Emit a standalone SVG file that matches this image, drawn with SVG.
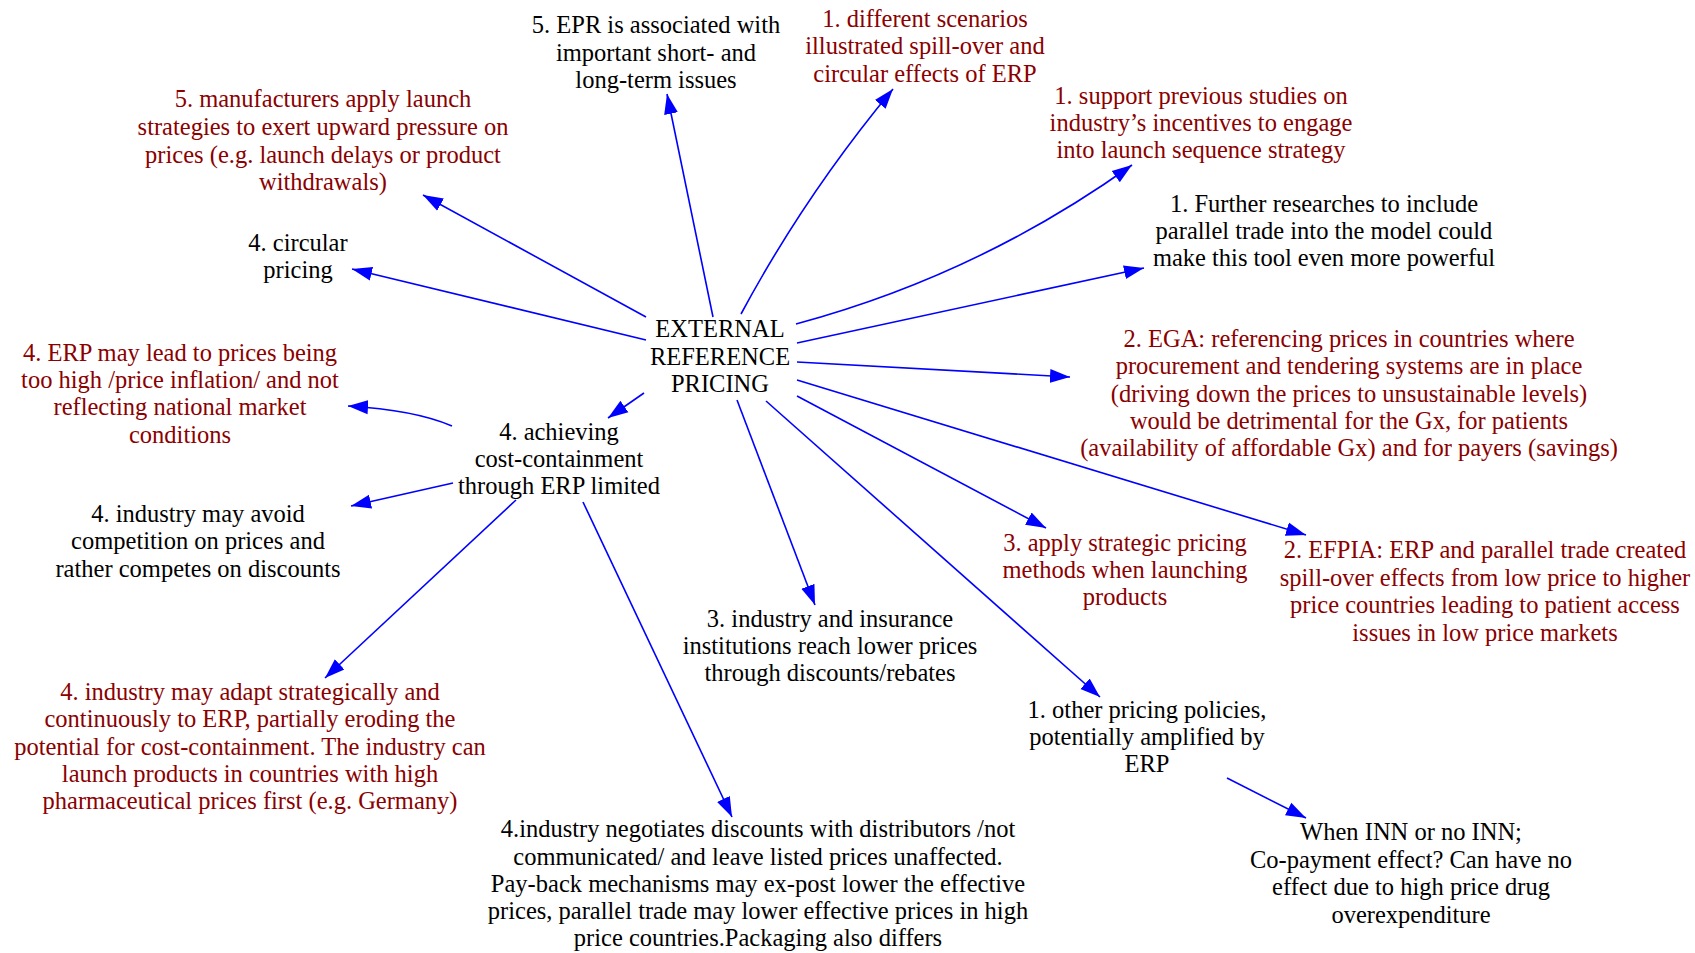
<svg xmlns="http://www.w3.org/2000/svg" width="1695" height="953" viewBox="0 0 1695 953">
  <style>
    .t { font-family: "Liberation Serif", "Times New Roman", serif; font-size: 24.5px; text-anchor: middle; }
    .k { fill: #000000; }
    .r { fill: #8b0000; }
    .e { fill: none; stroke: #0000ff; stroke-width: 1.6; marker-end: url(#arr); }
  </style>
  <defs>
    <marker id="arr" markerUnits="userSpaceOnUse" markerWidth="22" markerHeight="16" refX="20" refY="7" orient="auto" viewBox="0 0 22 14">
      <path d="M0,0 L20,7 L0,14 z" fill="#0000ff"/>
    </marker>
  </defs>
  <rect width="1695" height="953" fill="#ffffff"/>

  <!-- connectors -->
  <g id="edges">
    <path class="e" d="M713,317 L667,94"/>
    <path class="e" d="M741,314 Q805,195 893,89"/>
    <path class="e" d="M796,324 Q978,275 1132,165"/>
    <path class="e" d="M797,343 L1144,268"/>
    <path class="e" d="M797,362 L1070,377"/>
    <path class="e" d="M797,380 L1306,535"/>
    <path class="e" d="M797,396 L1046,528"/>
    <path class="e" d="M766,401 L1100,697"/>
    <path class="e" d="M737,400 L815,605"/>
    <path class="e" d="M644,393 L608,418"/>
    <path class="e" d="M646,317 L423,195"/>
    <path class="e" d="M646,340 L352,269"/>
    <path class="e" d="M452,426 Q415,410 348,406"/>
    <path class="e" d="M453,483 L351,506"/>
    <path class="e" d="M516,500 L325,678"/>
    <path class="e" d="M583,502 L732,817"/>
    <path class="e" d="M1227,778 L1306,818"/>
  </g>

  <g id="n_erp" class="t k">
    <text x="720" y="337">EXTERNAL</text>
    <text x="720" y="365">REFERENCE</text>
    <text x="720" y="392">PRICING</text>
  </g>
  <g id="n_epr_issues" class="t k">
    <text x="656" y="33">5. EPR is associated with</text>
    <text x="656" y="61">important short- and</text>
    <text x="656" y="88">long-term issues</text>
  </g>
  <g id="n_scenarios" class="t r">
    <text x="925" y="27">1. different scenarios</text>
    <text x="925" y="54">illustrated spill-over and</text>
    <text x="925" y="82">circular effects of ERP</text>
  </g>
  <g id="n_support" class="t r">
    <text x="1201" y="104">1. support previous studies on</text>
    <text x="1201" y="131">industry’s incentives to engage</text>
    <text x="1201" y="158">into launch sequence strategy</text>
  </g>
  <g id="n_further" class="t k">
    <text x="1324" y="212">1. Further researches to include</text>
    <text x="1324" y="239">parallel trade into the model could</text>
    <text x="1324" y="266">make this tool even more powerful</text>
  </g>
  <g id="n_ega" class="t r">
    <text x="1349" y="347">2. EGA: referencing prices in countries where</text>
    <text x="1349" y="374">procurement and tendering systems are in place</text>
    <text x="1349" y="402">(driving down the prices to unsustainable levels)</text>
    <text x="1349" y="429">would be detrimental for the Gx, for patients</text>
    <text x="1349" y="456">(availability of affordable Gx) and for payers (savings)</text>
  </g>
  <g id="n_efpia" class="t r">
    <text x="1485" y="558">2. EFPIA: ERP and parallel trade created</text>
    <text x="1485" y="586">spill-over effects from low price to higher</text>
    <text x="1485" y="613">price countries leading to patient access</text>
    <text x="1485" y="641">issues in low price markets</text>
  </g>
  <g id="n_apply" class="t r">
    <text x="1125" y="551">3. apply strategic pricing</text>
    <text x="1125" y="578">methods when launching</text>
    <text x="1125" y="605">products</text>
  </g>
  <g id="n_other" class="t k">
    <text x="1147" y="718">1. other pricing policies,</text>
    <text x="1147" y="745">potentially amplified by</text>
    <text x="1147" y="772">ERP</text>
  </g>
  <g id="n_inn" class="t k">
    <text x="1411" y="840">When INN or no INN;</text>
    <text x="1411" y="868">Co-payment effect? Can have no</text>
    <text x="1411" y="895">effect due to high price drug</text>
    <text x="1411" y="923">overexpenditure</text>
  </g>
  <g id="n_insurance" class="t k">
    <text x="830" y="627">3. industry and insurance</text>
    <text x="830" y="654">institutions reach lower prices</text>
    <text x="830" y="681">through discounts/rebates</text>
  </g>
  <g id="n_negotiates" class="t k">
    <text x="758" y="837">4.industry negotiates discounts with distributors /not</text>
    <text x="758" y="865">communicated/ and leave listed prices unaffected.</text>
    <text x="758" y="892">Pay-back mechanisms may ex-post lower the effective</text>
    <text x="758" y="919">prices, parallel trade may lower effective prices in high</text>
    <text x="758" y="946">price countries.Packaging also differs</text>
  </g>
  <g id="n_achieving" class="t k">
    <text x="559" y="440">4. achieving</text>
    <text x="559" y="467">cost-containment</text>
    <text x="559" y="494">through ERP limited</text>
  </g>
  <g id="n_inflation" class="t r">
    <text x="180" y="361">4. ERP may lead to prices being</text>
    <text x="180" y="388">too high /price inflation/ and not</text>
    <text x="180" y="415">reflecting national market</text>
    <text x="180" y="443">conditions</text>
  </g>
  <g id="n_circular" class="t k">
    <text x="298" y="251">4. circular</text>
    <text x="298" y="278">pricing</text>
  </g>
  <g id="n_manufacturers" class="t r">
    <text x="323" y="107">5. manufacturers apply launch</text>
    <text x="323" y="135">strategies to exert upward pressure on</text>
    <text x="323" y="163">prices (e.g. launch delays or product</text>
    <text x="323" y="190">withdrawals)</text>
  </g>
  <g id="n_avoid" class="t k">
    <text x="198" y="522">4. industry may avoid</text>
    <text x="198" y="549">competition on prices and</text>
    <text x="198" y="577">rather competes on discounts</text>
  </g>
  <g id="n_adapt" class="t r">
    <text x="250" y="700">4. industry may adapt strategically and</text>
    <text x="250" y="727">continuously to ERP, partially eroding the</text>
    <text x="250" y="755">potential for cost-containment. The industry can</text>
    <text x="250" y="782">launch products in countries with high</text>
    <text x="250" y="809">pharmaceutical prices first (e.g. Germany)</text>
  </g>
</svg>
